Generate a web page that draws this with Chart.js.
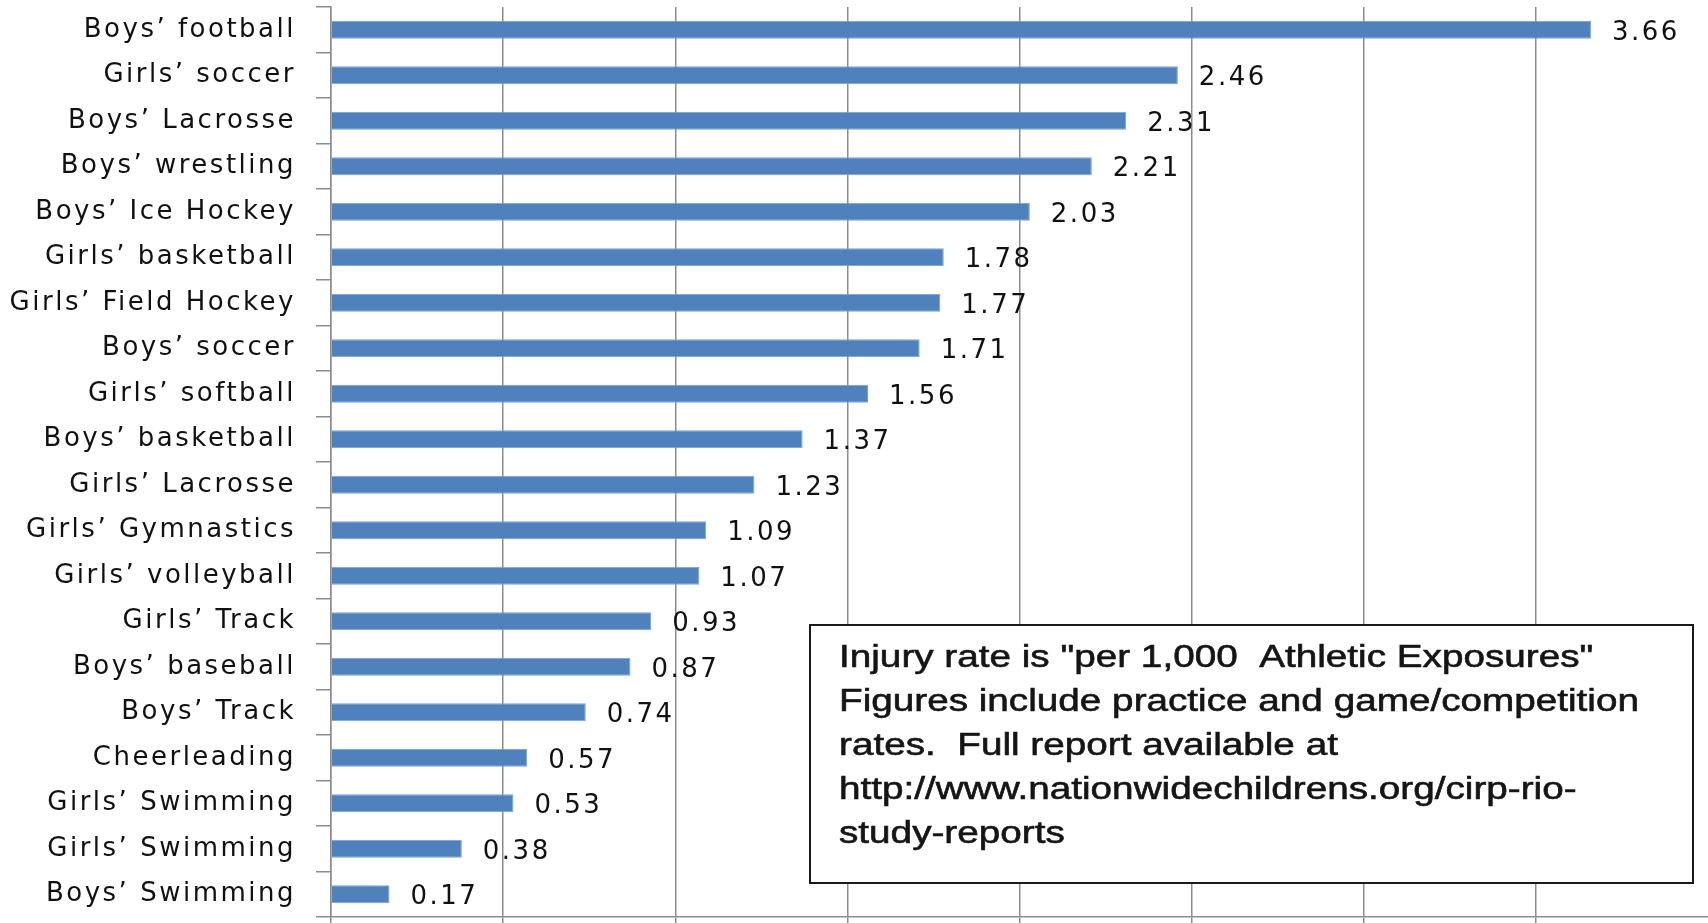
<!DOCTYPE html>
<html lang="en">
<head>
  <meta charset="UTF-8" />
  <title>Injury rates by sport</title>
  <script src="https://cdn.jsdelivr.net/npm/chart.js@4.4.0/dist/chart.umd.min.js"></script>
  <style>
    html, body { margin: 0; padding: 0; background: #fff; overflow: hidden; }
    canvas { display: block; }
  </style>
</head>
<body>
  <canvas id="injuryChart" width="1708" height="923"></canvas>
  <script>
    const sports = [
      'Boys\u2019 football', 'Girls\u2019 soccer', 'Boys\u2019 Lacrosse', 'Boys\u2019 wrestling',
      'Boys\u2019 Ice Hockey', 'Girls\u2019 basketball', 'Girls\u2019 Field Hockey', 'Boys\u2019 soccer',
      'Girls\u2019 softball', 'Boys\u2019 basketball', 'Girls\u2019 Lacrosse', 'Girls\u2019 Gymnastics',
      'Girls\u2019 volleyball', 'Girls\u2019 Track', 'Boys\u2019 baseball', 'Boys\u2019 Track',
      'Cheerleading', 'Girls\u2019 Swimming', 'Girls\u2019 Swimming', 'Boys\u2019 Swimming'
    ];
    const injuryRates = [3.66, 2.46, 2.31, 2.21, 2.03, 1.78, 1.77, 1.71, 1.56, 1.37,
                         1.23, 1.09, 1.07, 0.93, 0.87, 0.74, 0.57, 0.53, 0.38, 0.17];
    const noteLines = [
      'Injury rate is "per 1,000  Athletic Exposures"',
      'Figures include practice and game/competition',
      'rates.  Full report available at',
      'http://www.nationwidechildrens.org/cirp-rio-',
      'study-reports'
    ];

    const FONT = '"DejaVu Sans", Verdana, sans-serif';

    // wide Excel-ish lettering for the axis labels
    const spacingPlugin = {
      id: 'spacing',
      beforeDraw(chart) { chart.ctx.letterSpacing = '2.5px'; }
    };

    const valueLabels = {
      id: 'valueLabels',
      afterDatasetsDraw(chart) {
        const ctx = chart.ctx;
        const meta = chart.getDatasetMeta(0);
        ctx.save();
        ctx.font = '26px ' + FONT;
        ctx.fillStyle = '#111';
        ctx.textAlign = 'left';
        ctx.textBaseline = 'middle';
        meta.data.forEach((bar, i) => {
          ctx.fillText(injuryRates[i].toFixed(2), bar.x + 21, bar.y + 3);
        });
        ctx.restore();
      }
    };

    const noteBox = {
      id: 'noteBox',
      afterDraw(chart) {
        const ctx = chart.ctx;
        const x = 810, y = 625, w = 883, h = 258;
        ctx.save();
        ctx.letterSpacing = '0px';
        ctx.fillStyle = '#fff';
        ctx.fillRect(x, y, w, h);
        ctx.strokeStyle = '#1a1a1a';
        ctx.lineWidth = 2;
        ctx.strokeRect(x, y, w, h);
        ctx.font = '31px "Liberation Sans", Arial, sans-serif';
        ctx.fillStyle = '#151515';
        ctx.strokeStyle = '#151515';
        ctx.lineWidth = 0.6;
        ctx.textBaseline = 'middle';
        // squeeze horizontally to mimic the condensed face
        const sx = 800 / ctx.measureText(noteLines[1]).width;
        noteLines.forEach((line, i) => {
          ctx.save();
          ctx.translate(x + 29, y + 33 + i * 44);
          ctx.scale(sx, 1);
          ctx.fillText(line, 0, 0);
          ctx.strokeText(line, 0, 0);
          ctx.restore();
        });
        ctx.restore();
      }
    };

    new Chart(document.getElementById('injuryChart'), {
      type: 'bar',
      data: {
        labels: sports,
        datasets: [{
          data: injuryRates,
          backgroundColor: '#4f81bd',
          borderColor: '#7aa0d0',
          borderWidth: 1,
          barPercentage: 0.4,
          categoryPercentage: 1
        }]
      },
      options: {
        indexAxis: 'y',
        responsive: false,
        animation: false,
        devicePixelRatio: 1,
        layout: { padding: { top: 7, left: 0, right: 0, bottom: 0 } },
        plugins: { legend: { display: false }, tooltip: { enabled: false } },
        scales: {
          x: {
            min: 0,
            max: 4,
            afterFit(scale) {
              scale.height = 6;
              scale.paddingLeft = 0;
              scale.paddingRight = 0;
            },
            ticks: { stepSize: 0.5, display: false },
            grid: {
              color: (c) => (c.tick && c.tick.value >= 4 ? 'rgba(0,0,0,0)' : '#8c8c8c'),
              lineWidth: 1.5,
              tickLength: 6
            },
            border: { display: true, color: '#8c8c8c', width: 1.5 }
          },
          y: {
            afterFit(scale) {
              scale.width = 331;
              scale.paddingTop = 0;
              scale.paddingBottom = 0;
            },
            ticks: {
              color: '#111',
              padding: 20,
              font: { family: FONT, size: 26 }
            },
            grid: {
              drawOnChartArea: false,
              color: '#8c8c8c',
              lineWidth: 1.5,
              tickLength: 15
            },
            border: { display: true, color: '#8c8c8c', width: 1.5 }
          }
        }
      },
      plugins: [spacingPlugin, valueLabels, noteBox]
    });
  </script>
</body>
</html>
